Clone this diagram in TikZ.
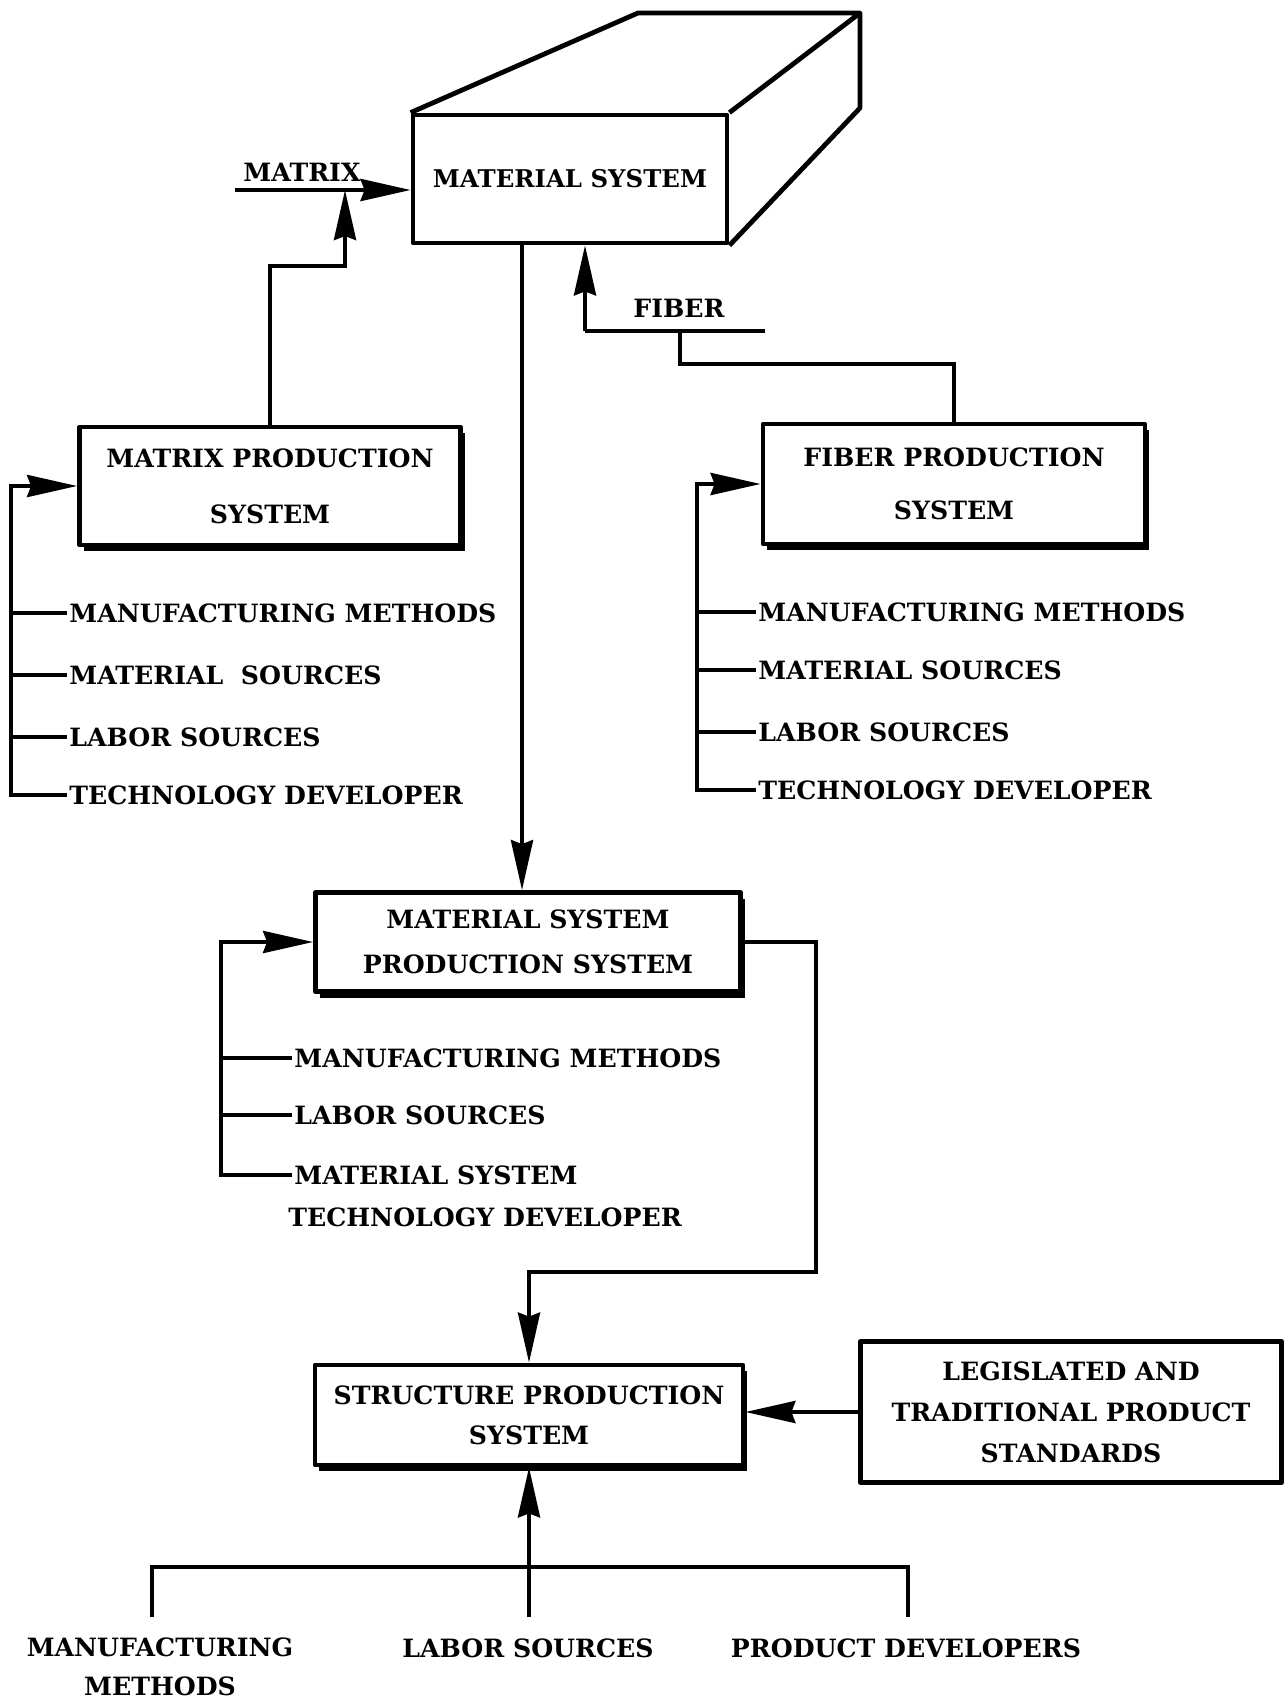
\documentclass[tikz,border=0pt]{standalone}
\usepackage{fontspec}
\setmainfont{DejaVu Serif}
\usetikzlibrary{arrows.meta,shadows}

\begin{document}
\begin{tikzpicture}[x=0.5pt,y=-0.5pt,
  lbl/.style={font=\fontsize{12.6}{20}\selectfont\bfseries, inner sep=1pt},
  item/.style={lbl, anchor=west},
  boxline/.style={line width=2.4pt, line join=round},
  psys/.style={boxline, draw, fill=white, align=center, inner sep=0pt,
    drop shadow={shadow xshift=2pt, shadow yshift=-3pt, fill=black, opacity=1}},
  plainbox/.style={boxline, draw, fill=white, align=center, inner sep=0pt},
  wire/.style={line width=2pt},
  arr/.style={wire, -{Stealth[length=25pt,width=11pt,inset=2pt]}},
]
\useasboundingbox[fill=white] (0,0) rectangle (1288,1702);

% ---------- material system block (front face + top and side) ----------
\node[lbl, plainbox, minimum width=157pt, minimum height=64pt,
      font=\fontsize{12.2}{20}\selectfont\bfseries] (ms) at (570,179) {MATERIAL SYSTEM};
\coordinate (bl) at (638,13);
\coordinate (br) at (860,13);
\coordinate (brb) at (860,108);
\draw[boxline] (ms.north west) -- (bl) -- (br) -- (ms.north east);
\draw[boxline] (br) -- (brb) -- (ms.south east);

% ---------- production systems ----------
\node[lbl, psys, minimum width=190.5pt, minimum height=59pt,
      font=\fontsize{12.6}{28}\selectfont\bfseries] (mp) at (270,486) {MATRIX PRODUCTION\\SYSTEM};
\node[lbl, psys, minimum width=191pt, minimum height=60pt,
      font=\fontsize{12.6}{26.5}\selectfont\bfseries] (fp) at (954,484) {FIBER PRODUCTION\\SYSTEM};
\node[lbl, psys, minimum width=212.5pt, minimum height=49.5pt,
      font=\fontsize{12.6}{22.5}\selectfont\bfseries] (msps) at (528,942) {MATERIAL SYSTEM\\PRODUCTION SYSTEM};
\node[lbl, psys, minimum width=214pt, minimum height=50pt,
      font=\fontsize{12.6}{20}\selectfont\bfseries] (sp) at (529,1415) {STRUCTURE PRODUCTION\\SYSTEM};
\node[lbl, plainbox, minimum width=210.5pt, minimum height=70.5pt,
      font=\fontsize{12.6}{20.5}\selectfont\bfseries] (leg) at (1071,1412) {LEGISLATED AND\\TRADITIONAL PRODUCT\\STANDARDS};

% ---------- inputs to the material system ----------
\node[lbl] (mxl) at (302,172) {MATRIX};
\coordinate (mxin) at (235,190);
\coordinate (mxj) at (345,190);
\coordinate (mxk) at (345,266);
\draw[arr] (mxin) -- (mxin -| ms.west);
\draw[arr] (mp.north) |- (mxk) -- (mxj);

\node[lbl] (fbl) at (679,308) {FIBER};
\coordinate (fj) at (585,331);
\coordinate (fend) at (765,331);
\coordinate (fk) at (680,331);
\coordinate (fk2) at (680,364);
\draw[wire] (fend) -- (fj);
\draw[arr] (fj) -- (fj |- ms.south);
\draw[wire] (fp.north) |- (fk2) -- (fk);

% ---------- material system to its production system ----------
\draw[arr] ([xshift=-3pt]msps.north |- ms.south) -- ([xshift=-3pt]msps.north);

% ---------- matrix production inputs ----------
\node[item] (m1) at (67,613) {MANUFACTURING METHODS};
\node[item] (m2) at (67,675) {MATERIAL\ \ SOURCES};
\node[item] (m3) at (67,737) {LABOR SOURCES};
\node[item] (m4) at (67,795) {TECHNOLOGY DEVELOPER};
\coordinate (mpbus) at (11,486);
\draw[arr] (m4.west) -| (mpbus) -- (mp.west);
\foreach \n in {m1,m2,m3} \draw[wire] (\n.west) -- (\n.west -| mpbus);

% ---------- fiber production inputs ----------
\node[item] (f1) at (756,612) {MANUFACTURING METHODS};
\node[item] (f2) at (756,670) {MATERIAL SOURCES};
\node[item] (f3) at (756,732) {LABOR SOURCES};
\node[item] (f4) at (756,790) {TECHNOLOGY DEVELOPER};
\coordinate (fpbus) at (697,484);
\draw[arr] (f4.west) -| (fpbus) -- (fp.west);
\foreach \n in {f1,f2,f3} \draw[wire] (\n.west) -- (\n.west -| fpbus);

% ---------- material system production inputs ----------
\node[item] (s1) at (292,1058) {MANUFACTURING METHODS};
\node[item] (s2) at (292,1115) {LABOR SOURCES};
\node[item] (s3) at (292,1175) {MATERIAL SYSTEM};
\node[item] (s3b) at (286,1217) {TECHNOLOGY DEVELOPER};
\coordinate (sbus) at (221,942);
\draw[arr] (s3.west) -| (sbus) -- (msps.west);
\foreach \n in {s1,s2} \draw[wire] (\n.west) -- (\n.west -| sbus);

% ---------- material system production to structure production ----------
\coordinate (rk) at (816,1272);
\draw[arr] (msps.east) -| (rk) -| (sp.north);

% ---------- standards ----------
\draw[arr] (leg.west) -- (leg.west -| sp.east);

% ---------- structure production inputs ----------
\node[lbl, align=center, font=\fontsize{12.6}{19.5}\selectfont\bfseries] (b1) at (160,1667) {MANUFACTURING\\METHODS};
\node[lbl] (b2) at (528,1648) {LABOR SOURCES};
\node[lbl] (b3) at (906,1648) {PRODUCT DEVELOPERS};
\coordinate (t1) at (152,1617);
\coordinate (t3) at (908,1617);
\coordinate (hb) at (0,1567);
\coordinate (t2) at (sp.south |- t1);
\draw[wire] (t1) -- (t1 |- hb) -- (t3 |- hb) -- (t3);
\draw[arr] (t2) -- (sp.south);

\end{tikzpicture}
\end{document}
